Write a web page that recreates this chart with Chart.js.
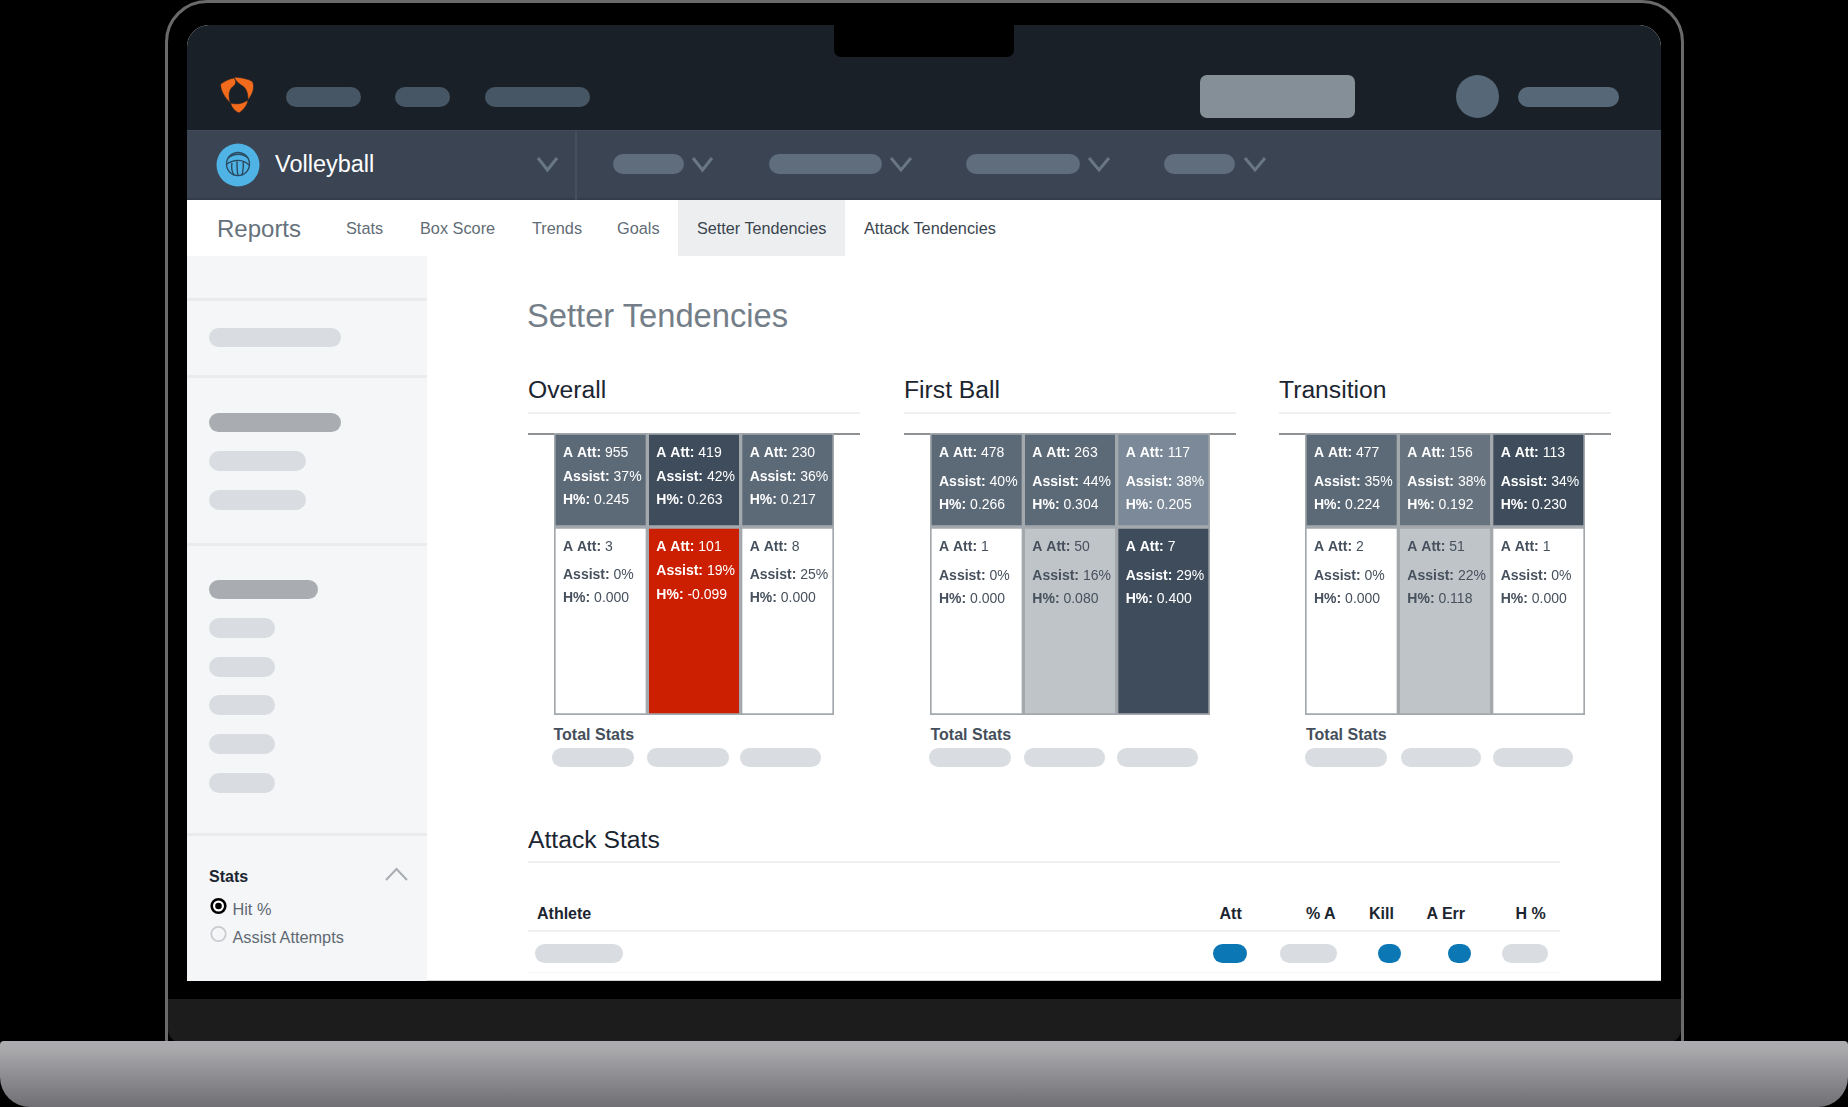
<!DOCTYPE html>
<html><head><meta charset="utf-8">
<script src="https://cdn.jsdelivr.net/npm/chart.js@4"></script>
<style>
html,body{margin:0;padding:0;background:#000;overflow:hidden}
#stage{position:relative;width:1848px;height:1107px;background:#000;font-family:"Liberation Sans",Arial,sans-serif;overflow:hidden}
.b{position:absolute;box-sizing:border-box}
.t{position:absolute;white-space:nowrap;line-height:1;transform:translateY(-50%)}
svg{position:absolute;overflow:visible}
</style></head><body>
<div id="stage"></div>
<script>
// ---------- chart data ----------
const zones = ['Left', 'Middle', 'Right'];
const rowSpans = { top: [2, 3], bottom: [0, 2] };

const overallAttTop = [955, 419, 230];
const overallAssistTop = [37, 42, 36];
const overallHitTop = ['0.245', '0.263', '0.217'];
const overallAttBottom = [3, 101, 8];
const overallAssistBottom = [0, 19, 25];
const overallHitBottom = ['0.000', '-0.099', '0.000'];

const firstAttTop = [478, 263, 117];
const firstAssistTop = [40, 44, 38];
const firstHitTop = ['0.266', '0.304', '0.205'];
const firstAttBottom = [1, 50, 7];
const firstAssistBottom = [0, 16, 29];
const firstHitBottom = ['0.000', '0.080', '0.400'];

const transAttTop = [477, 156, 113];
const transAssistTop = [35, 38, 34];
const transHitTop = ['0.224', '0.192', '0.230'];
const transAttBottom = [2, 51, 1];
const transAssistBottom = [0, 22, 0];
const transHitBottom = ['0.000', '0.118', '0.000'];

// ---------- styles ----------
const DARK = '#3e4c5c', MID = '#5c6977', SOFT = '#67737f', PALE = '#7b8998', GREY = '#bfc4c9', WHITE = '#ffffff', RED = '#cc1e00';
const overallTopFill = [MID, DARK, MID];
const overallBottomFill = [WHITE, RED, WHITE];
const firstTopFill = [MID, MID, PALE];
const firstBottomFill = [WHITE, GREY, DARK];
const transTopFill = [MID, SOFT, DARK];
const transBottomFill = [WHITE, GREY, WHITE];

const stage = document.getElementById('stage');
function box(x, y, w, h, bg, r, extra) {
  const d = document.createElement('div'); d.className = 'b';
  d.style.cssText = `left:${x}px;top:${y}px;width:${w}px;height:${h}px;background:${bg};border-radius:${r || 0}${typeof r === 'string' ? '' : 'px'};${extra || ''}`;
  stage.appendChild(d); return d;
}
function pill(x0, x1, y0, y1, c) { return box(x0, y0, x1 - x0, y1 - y0, c, 10); }
function text(s, x, cy, size, color, weight, extra) {
  const d = document.createElement('div'); d.className = 't'; d.textContent = s;
  d.style.cssText = `left:${x}px;top:${cy}px;font-size:${size}px;color:${color};font-weight:${weight || 400};${extra || ''}`;
  stage.appendChild(d); return d;
}
function svgEl(x, y, w, h, inner) {
  const d = document.createElement('div');
  d.innerHTML = `<svg style="left:${x}px;top:${y}px" width="${w}" height="${h}" viewBox="0 0 ${w} ${h}">${inner}</svg>`;
  stage.appendChild(d.firstChild);
}
function chevron(x0, x1, y0, y1, c, sw, up) {
  const w = x1 - x0, h = y1 - y0;
  const p = up ? `M0 ${h} L${w/2} 0 L${w} ${h}` : `M0 0 L${w/2} ${h} L${w} 0`;
  svgEl(x0, y0, w, h, `<path d="${p}" fill="none" stroke="${c}" stroke-width="${sw}"/>`);
}

// ---------- laptop ----------
box(165, 0, 1519, 1062, '#000', '42px 42px 22px 22px', 'border:3px solid #6a6a6a;');
box(168, 999, 1513, 44, '#1c1c1c', '0 0 14px 14px');
box(187, 25, 1474, 956, '#fff', '22px 22px 0 0', 'overflow:hidden;border-bottom:1px solid #d0d0d0;');
box(187, 25, 1474, 105, '#1a2027', '22px 22px 0 0');
box(834, 25, 180, 32, '#000', '0 0 7px 7px');
box(0, 1041, 1848, 66, 'linear-gradient(#acacb0,#aaaaad 12%,#88888d 60%,#6f6f74)', '4px 4px 30px 30px');

// ---------- top bar ----------
svgEl(220, 76, 36, 38, `<g fill="#f26a1b" stroke="#1a2027" stroke-width="0.6">
<path d="M14 1 C20 1.5 28 2.5 32.5 5.5 C35 11 33 18 28 24 C28 18 27 12 21 9 C18 7 15 4 14 1Z"/>
<path d="M0.5 8 C5 5 10 2.5 14 2 C17 6 16 8.5 12.5 11 C9 14 8 20 10.5 27 C5 22 0.5 15 0.5 8Z"/>
<path d="M10.5 27 C14 28 21 29 28 24 C27.5 29 24 33.5 19 37 C15 35.5 11.5 31.5 10.5 27Z"/></g>`);
pill(286, 361, 87, 107, '#465664');
pill(395, 450, 87, 107, '#465664');
pill(485, 590, 87, 107, '#465664');
box(1200, 75, 155, 43, '#858f97', 7);
box(1456, 75, 43, 43, '#566878', '50%');
pill(1518, 1619, 87, 107, '#566878');

// ---------- sport bar ----------
box(187, 130, 1474, 70, '#3a4452', 0, 'border-bottom:2px solid #333c48;border-top:1px solid #414b59;');
box(575, 130, 2, 70, '#464f5c', 0);
svgEl(216, 143, 44, 44, `<circle cx="22" cy="22" r="21.5" fill="#4fb3e6"/>
<g fill="none" stroke="#2a4a60" stroke-width="1.4"><circle cx="22" cy="21" r="11.5"/>
<path d="M12 15 C18 10 27 10 32 15 M11 21 C18 16 27 16 33 22 M16 20 C15 25 16 29 18 32 M21 18 C21 23 21 28 22 33 M27 19 C28 24 27 28 26 32"/></g>`);
text('Volleyball', 275, 165, 23.5, '#ffffff');
chevron(538, 557, 158, 170, '#697684', 3);
pill(613, 684, 154, 174, '#5f6d7c'); chevron(693, 712, 158, 170, '#697684', 3);
pill(769, 882, 154, 174, '#5f6d7c'); chevron(891, 911, 158, 170, '#697684', 3);
pill(966, 1080, 154, 174, '#5f6d7c'); chevron(1089, 1109, 158, 170, '#697684', 3);
pill(1164, 1235, 154, 174, '#5f6d7c'); chevron(1245, 1265, 158, 170, '#697684', 3);

// ---------- tabs ----------
text('Reports', 217, 229, 24, '#66717c');
box(678, 200, 167, 56, '#eceef0', 0);
text('Stats', 346, 228, 16.3, '#626c76');
text('Box Score', 420, 228, 16.3, '#626c76');
text('Trends', 532, 228, 16.3, '#626c76');
text('Goals', 617, 228, 16.3, '#626c76');
text('Setter Tendencies', 697, 228, 16.2, '#3a444e');
text('Attack Tendencies', 864, 228, 16.3, '#3a444e');

// ---------- sidebar ----------
box(187, 256, 240, 725, '#f5f6f7', 0);
[298, 375, 543, 833].forEach(y => box(187, y, 240, 3, '#e9ebed', 0));
const sideLight = '#d9dde1', sideDark = '#a9adb1';
pill(209, 341, 328, 347, sideLight);
pill(209, 341, 413, 432, sideDark);
pill(209, 306, 451, 471, sideLight);
pill(209, 306, 490, 510, sideLight);
pill(209, 318, 580, 599, sideDark);
[628, 667, 705, 744, 783].forEach(c => pill(209, 275, c - 10, c + 10, sideLight));
text('Stats', 209, 877, 16, '#1b2530', 700);
chevron(386, 407, 869, 880, '#a9adb2', 2, true);
svgEl(210, 898, 17, 17, `<circle cx="8.5" cy="8" r="6.8" fill="#fff" stroke="#000" stroke-width="2.6"/><circle cx="8.5" cy="8" r="3.3" fill="#000"/>`);
svgEl(210, 926, 17, 17, `<circle cx="8.5" cy="8" r="7.2" fill="#f5f6f7" stroke="#c9ccd0" stroke-width="1.8"/>`);
text('Hit %', 232.5, 909, 16.3, '#5f6973');
text('Assist Attempts', 232.5, 937, 16.3, '#5f6973');

// ---------- main ----------
text('Setter Tendencies', 527, 316, 32.7, '#747e88');
const sections = [
  { title: 'Overall', x: 528, totalX: 553.5, pills: [[552, 634], [647, 729], [740, 821]] },
  { title: 'First Ball', x: 904, totalX: 930.5, pills: [[929, 1011], [1024, 1105], [1117, 1198]] },
  { title: 'Transition', x: 1279, totalX: 1306, pills: [[1305, 1387], [1401, 1481], [1493, 1573]] }
];
sections.forEach(s => {
  text(s.title, s.x, 389.5, 24.7, '#1b2530');
  box(s.x, 412, 332, 2, '#eef0f1', 0);
  box(s.x, 433, 332, 2, '#8f9295', 0);
  text('Total Stats', s.totalX, 735, 16, '#454f5b', 700);
  s.pills.forEach(p => pill(p[0], p[1], 748, 767, '#d9dde1'));
});

text('Attack Stats', 528, 840, 24.7, '#1b2530');
box(528, 861, 1032, 2, '#eef0f1', 0);
text('Athlete', 537, 914, 16, '#1b2530', 700);
text('Att', 1219.5, 914, 16, '#1b2530', 700);
text('% A', 1306, 914, 16, '#1b2530', 700);
text('Kill', 1369, 914, 16, '#1b2530', 700);
text('A Err', 1426.5, 914, 16, '#1b2530', 700);
text('H %', 1515.5, 914, 16, '#1b2530', 700);
box(528, 930, 1032, 2, '#eef0f1', 0);
box(528, 972, 1032, 1, '#f3f4f5', 0);
pill(535, 623, 944, 963, '#d9dde1');
pill(1213, 1247, 944, 963, '#0b78b5');
pill(1280, 1337, 944, 963, '#d9dde1');
pill(1378, 1401, 944, 963, '#0b78b5');
pill(1448, 1471, 944, 963, '#0b78b5');
pill(1502, 1548, 944, 963, '#d9dde1');

// ---------- the three zone charts ----------
const cellLabels = {
  id: 'cellLabels',
  afterDatasetsDraw(chart, args, opts) {
    const ctx = chart.ctx;
    ctx.save();
    ctx.textBaseline = 'middle';
    opts.rows.forEach((row, di) => {
      chart.getDatasetMeta(di).data.forEach((bar, i) => {
        const top = bar.y;
        const left = bar.x - bar.width / 2 + 9;
        const fill = row.fill[i];
        const color = (fill === WHITE || fill === GREY) ? '#46515d' : '#ffffff';
        const off = row.offsets[i];
        const lines = [['A Att: ', String(row.att[i])], ['Assist: ', row.assist[i] + '%'], ['H%: ', row.hit[i]]];
        lines.forEach((ln, k) => {
          ctx.fillStyle = color;
          ctx.font = 'bold 14px "Liberation Sans"';
          ctx.fillText(ln[0], left, top + off[k]);
          const w = ctx.measureText(ln[0]).width;
          ctx.font = '14px "Liberation Sans"';
          ctx.fillText(ln[1], left + w, top + off[k]);
        });
      });
    });
    ctx.restore();
  }
};
function zoneChart(x, w, top, bottom) {
  const c = document.createElement('canvas');
  c.style.cssText = `position:absolute;left:${x}px;top:433px;width:${w}px;height:282px`;
  c.width = w; c.height = 282;
  stage.appendChild(c);
  const seam = '#a3a8ad';
  new Chart(c, {
    type: 'bar',
    data: {
      labels: zones,
      datasets: [
        { label: 'Top row', data: zones.map(() => rowSpans.top), backgroundColor: top.fill, borderColor: seam, borderWidth: 2, borderSkipped: false, grouped: false },
        { label: 'Bottom row', data: zones.map(() => rowSpans.bottom), backgroundColor: bottom.fill, borderColor: seam, borderWidth: 2, borderSkipped: false, grouped: false }
      ]
    },
    options: {
      responsive: false, animation: false, devicePixelRatio: 1,
      layout: { padding: 0 },
      datasets: { bar: { barPercentage: 1, categoryPercentage: 1 } },
      scales: {
        x: { display: false, offset: true },
        y: { display: false, min: 0, max: 3 }
      },
      plugins: { legend: { display: false }, tooltip: { enabled: false }, cellLabels: { rows: [top, bottom] } }
    },
    plugins: [cellLabels]
  });
}
const o1 = [20, 44, 67], o2 = [20, 48, 71], o3 = [20, 44, 68], o4 = [20, 49, 72];
zoneChart(554, 280,
  { att: overallAttTop, assist: overallAssistTop, hit: overallHitTop, fill: overallTopFill, offsets: [o1, o1, o1] },
  { att: overallAttBottom, assist: overallAssistBottom, hit: overallHitBottom, fill: overallBottomFill, offsets: [o2, o3, o2] });
zoneChart(930, 280,
  { att: firstAttTop, assist: firstAssistTop, hit: firstHitTop, fill: firstTopFill, offsets: [o4, o4, o4] },
  { att: firstAttBottom, assist: firstAssistBottom, hit: firstHitBottom, fill: firstBottomFill, offsets: [o4, o4, o4] });
zoneChart(1305, 280,
  { att: transAttTop, assist: transAssistTop, hit: transHitTop, fill: transTopFill, offsets: [o4, o4, o4] },
  { att: transAttBottom, assist: transAssistBottom, hit: transHitBottom, fill: transBottomFill, offsets: [o4, o4, o4] });
</script>
</body></html>
